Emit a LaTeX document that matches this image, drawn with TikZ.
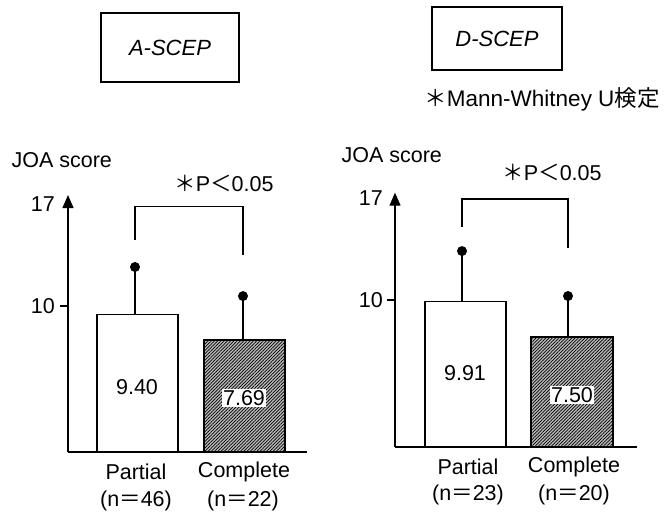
\documentclass[tikz,border=0pt]{standalone}
\usepackage{fontspec}
\setmainfont{Liberation Sans}
\newfontfamily\cjk{Noto Sans CJK JP}
\usetikzlibrary{arrows.meta,patterns.meta}

\begin{document}
\begin{tikzpicture}[x=1pt,y=-1pt,font=\fontsize{21.5}{25}\selectfont,
	lw/.style={line width=1.3pt},
	openbar/.style={draw,line width=1.4pt,fill=white},
	hatchbar/.style={draw,line width=2.2pt,fill=gray!55,
		postaction={pattern={Lines[angle=45,distance=2.3pt,line width=0.7pt]}}},
	valbox/.style={fill=white,inner sep=1.5pt},
	ticklbl/.style={anchor=east,inner sep=0pt},
	dot/.style={fill,radius=5pt},
	titlebox/.style={draw,line width=1.1pt,font=\fontsize{22}{25}\selectfont\itshape}]
	\useasboundingbox (0,0) rectangle (665,513);
	% titles
	\node[titlebox,minimum width=138pt,minimum height=69pt] (atitle) at (170,47.5) {A-SCEP};
	\node[titlebox,minimum width=130pt,minimum height=63pt] (dtitle) at (497,38.5) {D-SCEP};
	\node[font=\fontsize{22.5}{25}\selectfont] (utest) at (542,99) {{\cjk ＊}Mann-Whitney U{\cjk 検定}};
	% left panel
	\node[anchor=west] (ajoa) at (8,160) {JOA score};
	\begin{scope}[shift={(68,452)},y=14.6pt]
		\draw[openbar] (29,0) rectangle (110,9.40);
		\draw[hatchbar] (136,0) rectangle (217,7.69);
		\draw[lw,-{Triangle[width=11pt,length=13pt]}] (0,0) -- (0,17.6);
		\draw[lw] (-8,10) -- (0,10);
		\draw[lw] (0,0) -- (239,0);
		\node[ticklbl] (a17) at (-13,17) {17};
		\node[ticklbl] (a10) at (-13,10) {10};
		\draw[lw] (67,9.40) -- (67,12.67);
		\fill[dot] (67,12.67) circle;
		\draw[lw] (175,7.69) -- (175,10.68);
		\fill[dot] (175,10.68) circle;
		\draw[lw] (67,14.5) |- (175,16.8) -- (175,13.5);
		\node (ap) at (156,18.4) {{\cjk ＊}P{\cjk ＜}0.05};
		\node (apv) at (69,4.45) {9.40};
		\node[valbox] (acv) at (176,3.7) {7.69};
		\node (apart) at (68,-1.37) {Partial};
		\node (apn) at (68,-3.36) {(n{\cjk ＝}46)};
		\node (acomp) at (176,-1.37) {Complete};
		\node (acn) at (175,-3.36) {(n{\cjk ＝}22)};
	\end{scope}
	% right panel
	\node[anchor=west] (djoa) at (338,155) {JOA score};
	\begin{scope}[shift={(395,447)},y=14.7pt]
		\draw[openbar] (30,0) rectangle (111,9.91);
		\draw[hatchbar] (136,0) rectangle (218,7.50);
		\draw[lw,-{Triangle[width=11pt,length=13pt]}] (0,0) -- (0,17.3);
		\draw[lw] (-8,10) -- (0,10);
		\draw[lw] (0,0) -- (242,0);
		\node[ticklbl] (d17) at (-12,16.9) {17};
		\node[ticklbl] (d10) at (-12,10) {10};
		\draw[lw] (67,9.91) -- (67,13.33);
		\fill[dot] (67,13.33) circle;
		\draw[lw] (173,7.50) -- (173,10.27);
		\fill[dot] (173,10.27) circle;
		\draw[lw] (67,14.97) |- (173,16.87) -- (173,13.54);
		\node (dp) at (157,18.7) {{\cjk ＊}P{\cjk ＜}0.05};
		\node (dpv) at (70,5.03) {9.91};
		\node[valbox] (dcv) at (177,3.54) {7.50};
		\node (dpart) at (73,-1.36) {Partial};
		\node (dpn) at (73,-3.27) {(n{\cjk ＝}23)};
		\node (dcomp) at (179,-1.36) {Complete};
		\node (dcn) at (179,-3.27) {(n{\cjk ＝}20)};
	\end{scope}
\end{tikzpicture}
\end{document}
